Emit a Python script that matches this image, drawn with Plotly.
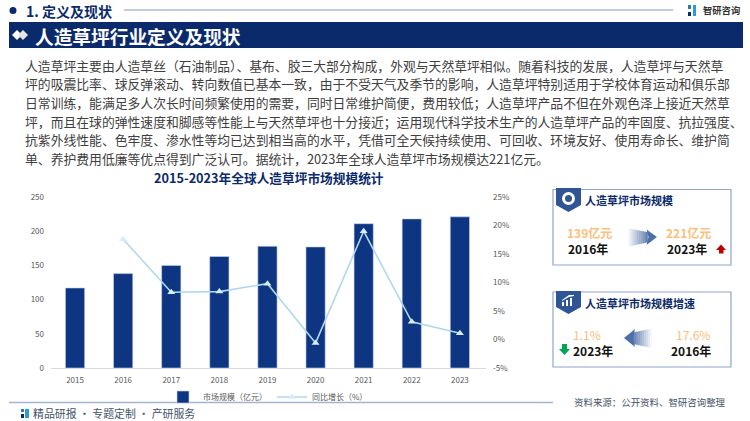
import plotly.graph_objects as go

W, H = 750, 421
PL, PR, PT, PB = 51, 486, 197, 368  # plot rectangle in page pixels
NAVY = "#0B2A6B"
BAR = "#0D3582"
BLUE2 = "#2F5597"
FONT = "Noto Sans CJK SC"

years = ["2015", "2016", "2017", "2018", "2019", "2020", "2021", "2022", "2023"]
market_size = [117, 138, 150, 163, 178, 177, 211, 218, 221]
growth_years = ["2016", "2017", "2018", "2019", "2020", "2021", "2022", "2023"]
growth_pct = [17.6, 8.3, 8.4, 9.8, -0.6, 19.0, 3.1, 1.1]
left_ticks = [0, 50, 100, 150, 200, 250]
right_ticks = [-5, 0, 5, 10, 15, 20, 25]
right_tick_labels = ["-5%", "0%", "5%", "10%", "15%", "20%", "25%"]

paragraph = [
    "人造草坪主要由人造草丝（石油制品）、基布、胶三大部分构成，外观与天然草坪相似。随着科技的发展，人造草坪与天然草",
    "坪的吸震比率、球反弹滚动、转向数值已基本一致，由于不受天气及季节的影响，人造草坪特别适用于学校体育运动和俱乐部",
    "日常训练，能满足多人次长时间频繁使用的需要，同时日常维护简便，费用较低；人造草坪产品不但在外观色泽上接近天然草",
    "坪，而且在球的弹性速度和脚感等性能上与天然草坪也十分接近；运用现代科学技术生产的人造草坪产品的牢固度、抗拉强度、",
    "抗紫外线性能、色牢度、渗水性等均已达到相当高的水平，凭借可全天候持续使用、可回收、环境友好、使用寿命长、维护简",
    "单、养护费用低廉等优点得到广泛认可。据统计，2023年全球人造草坪市场规模达221亿元。",
]
para_y = [65, 83.5, 102, 121, 139.5, 158]


def px(x):
    return (x - PL) / (PR - PL)


def py(y):
    return (PB - y) / (PB - PT)


fig = go.Figure()
fig.add_trace(go.Bar(x=years, y=market_size, name="市场规模（亿元）", marker=dict(color=BAR, line=dict(color="#C9D6EA", width=0.6)), yaxis="y"))
fig.add_trace(go.Scatter(x=growth_years, y=growth_pct, name="同比增长（%）", mode="lines+markers", yaxis="y2",
                         line=dict(color="#AFD8F0", width=1.6),
                         marker=dict(symbol="triangle-up", size=7, color="#D6ECF9")))

shapes, ann = [], []


def rect(x0, y0, x1, y1, fill=None, line=None, lw=1, layer="above"):
    shapes.append(dict(type="rect", xref="paper", yref="paper", x0=px(x0), x1=px(x1), y0=py(y0), y1=py(y1),
                       fillcolor=fill or "rgba(0,0,0,0)", line=dict(color=line or "rgba(0,0,0,0)", width=lw if line else 0), layer=layer))


def hline(x0, x1, y, color, lw):
    shapes.append(dict(type="line", xref="paper", yref="paper", x0=px(x0), x1=px(x1), y0=py(y), y1=py(y), line=dict(color=color, width=lw)))


def poly(points, fill, opacity=1):
    d = "M" + " L".join(f"{px(a):.5f},{py(b):.5f}" for a, b in points) + " Z"
    shapes.append(dict(type="path", xref="paper", yref="paper", path=d, fillcolor=fill, opacity=opacity, line=dict(width=0)))


def circle(x0, y0, x1, y1, fill):
    shapes.append(dict(type="circle", xref="paper", yref="paper", x0=px(x0), x1=px(x1), y0=py(y1), y1=py(y0), fillcolor=fill, line=dict(width=0)))


def text(x, y, s, size, color, anchor="left", bold=False, family=FONT):
    ann.append(dict(x=px(x), y=py(y), xref="paper", yref="paper", text=f"<b>{s}</b>" if bold else s, showarrow=False,
                    xanchor=anchor, yanchor="middle", align=anchor, font=dict(size=size, color=color, family=family), borderpad=0, borderwidth=0))


# Header
circle(9.5, 7, 16.5, 14, NAVY)
text(26, 11, "1. 定义及现状", 14, NAVY, bold=True)
hline(124, 673, 10, "#8497C0", 1)
text(703, 10, "智研咨询", 9.3, "#333333", "left", bold=True)
rect(688, 5, 691, 9, "#2E75C0")
rect(693, 5, 696, 16, "#2E9BD8")
rect(688, 12, 691, 16, "#0B2A6B")

rect(9, 22, 743, 48, NAVY)
poly([(12, 35), (17, 30), (22, 35), (17, 40)], "#FFFFFF")
poly([(18, 35), (23, 30), (28, 35), (23, 40)], "#E6E6E6")
text(35, 35, "人造草坪行业定义及现状", 18.7, "#FFFFFF", bold=True)

# Paragraph
for line, y in zip(paragraph, para_y):
    text(25, y, line, 12.82, "#404040")

# Chart title
text(269, 177, "2015-2023年全球人造草坪市场规模统计", 12.7, NAVY, "center", bold=True)

# Card 1
rect(553, 189.5, 731, 265, "#FFFFFF", "#8FA5CF", 1.2)
poly([(556, 188), (581, 188), (581, 205), (568.5, 212), (556, 205)], BLUE2)
circle(562, 192, 575, 205, "#FFFFFF")
circle(565, 195, 572, 202, BLUE2)
text(585, 200, "人造草坪市场规模", 11, NAVY, bold=True)
text(589.5, 232, "139亿元", 12, "#FBC07A", "center", bold=True)
text(587.5, 248, "2016年", 12, "#111111", "center", bold=True)
text(688, 232, "221亿元", 12, "#FBC07A", "center", bold=True)
text(687, 248, "2023年", 12, "#111111", "center", bold=True)
poly([(721, 244.5), (716, 250), (719, 250), (719, 253.5), (723.5, 253.5), (723.5, 250), (726, 250)], "#C00000")
# gradient arrow right
for i in range(11):
    x0 = 628 + i * 1.8
    poly([(x0, 228.5 + i * 0.35), (x0 + 1.85, 228.5 + i * 0.35), (x0 + 1.85, 246.5 - i * 0.4), (x0, 246.5 - i * 0.4)], BLUE2, 0.04 + i * 0.07)
poly([(646.5, 229.5), (657, 237), (646.5, 245), (648.5, 237)], "#4A6FA9")

# Card 2
rect(553, 292, 731, 367, "#FFFFFF", "#8FA5CF", 1.2)
poly([(556, 291), (581, 291), (581, 307), (568.5, 314), (556, 307)], BLUE2)
poly([(562, 306), (562, 302), (564, 302), (564, 306)], "#FFFFFF")
poly([(566, 306), (566, 300), (568, 300), (568, 306)], "#FFFFFF")
poly([(570, 306), (570, 298), (572, 298), (572, 306)], "#FFFFFF")
poly([(562, 300), (569, 295), (574, 295), (574, 296), (569, 297), (562, 301)], "#FFFFFF")
text(585, 303, "人造草坪市场规模增速", 11, NAVY, bold=True)
text(586.5, 334, "1.1%", 12, "#FBC07A", "center")
text(692.5, 334, "17.6%", 12, "#FBC07A", "center")
text(593, 350, "2023年", 12, "#111111", "center", bold=True)
text(691, 350, "2016年", 12, "#111111", "center", bold=True)
poly([(564.5, 355), (559, 349), (562, 349), (562, 344), (567, 344), (567, 349), (570, 349)], "#00A651")
# gradient arrow left
for i in range(10):
    x1 = 652 - i * 2
    poly([(x1 - 2.05, 328.5 + i * 0.45), (x1, 328.5 + i * 0.45), (x1, 348 - i * 0.45), (x1 - 2.05, 348 - i * 0.45)], BLUE2, 0.04 + i * 0.08)
poly([(635, 329), (624, 338), (635, 347), (633, 338)], "#4A6FA9")

# Footer
hline(9, 553, 402.5, "#A5B3D1", 1.5)
rect(21, 409, 24, 412, "#2E75C0")
rect(25, 409, 29, 418, "#2E9BD8")
rect(21, 414, 24, 418, "#0B2A6B")
text(33, 413, "精品研报 · 专题定制 · 产研服务", 10.9, "#44546A")
text(574, 402, "资料来源：公开资料、智研咨询整理", 9.45, "#44546A")

fig.update_layout(
    width=W, height=H, margin=dict(l=PL, r=W - PR, t=PT, b=H - PB, autoexpand=False), paper_bgcolor="#FFFFFF", plot_bgcolor="#FFFFFF",
    font=dict(family=FONT, color="#595959", size=8), bargap=0.6, shapes=shapes, annotations=ann,
    xaxis=dict(domain=[0, 1], type="category", categoryorder="array", categoryarray=years, showgrid=False, ticks="",
               showline=True, linecolor="#D9D9D9", linewidth=1, anchor="y", tickfont=dict(size=8, color="#595959"), ticklabelstandoff=4),
    yaxis=dict(domain=[0, 1], range=[0, 250], tickvals=left_ticks, showgrid=False, showline=False, zeroline=False, ticks="",
               tickfont=dict(size=8, color="#595959"), ticklabelstandoff=6),
    yaxis2=dict(overlaying="y", side="right", range=[-5, 25], tickvals=right_ticks, ticktext=right_tick_labels, showgrid=False, showline=False, zeroline=False,
                anchor="x", tickfont=dict(size=8, color="#595959"), ticklabelstandoff=6),
    legend=dict(orientation="h", x=px(268), xanchor="center", y=py(397), yanchor="middle",
                font=dict(size=8, color="#595959"), bgcolor="rgba(0,0,0,0)", itemwidth=30),
    showlegend=True,
)
fig.write_html("out.html", config={"displayModeBar": False}, post_script="document.body.style.margin='0';")
